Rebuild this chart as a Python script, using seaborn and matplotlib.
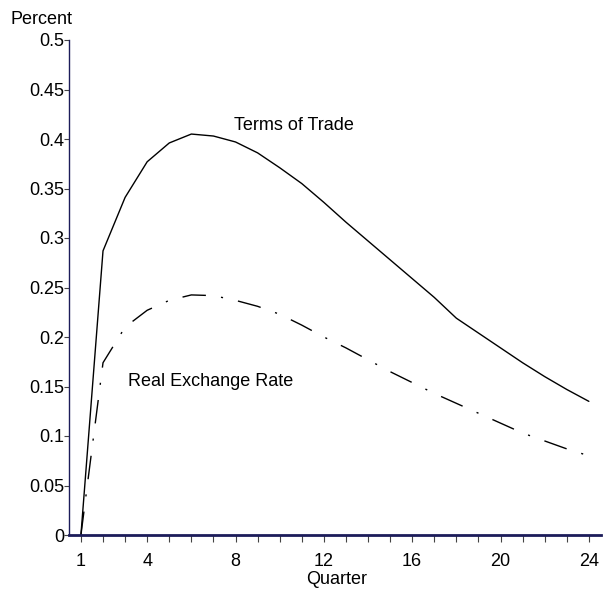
import numpy as np
import pandas as pd
import matplotlib
matplotlib.use("Agg")
import matplotlib.pyplot as plt
import seaborn as sns

quarters = list(range(1, 25))
terms_of_trade = [0.0, 0.287, 0.341, 0.377, 0.396, 0.405, 0.403, 0.397, 0.386, 0.371,
                  0.355, 0.336, 0.316, 0.297, 0.278, 0.259, 0.240, 0.219, 0.204, 0.189,
                  0.174, 0.160, 0.147, 0.135]
real_exchange_rate = [0.0, 0.174, 0.210, 0.227, 0.237, 0.2425, 0.2418, 0.237, 0.231, 0.223,
                      0.212, 0.200, 0.189, 0.177, 0.165, 0.154, 0.143, 0.133, 0.123, 0.113,
                      0.103, 0.095, 0.087, 0.080]
x_tick_labels = [1, 4, 8, 12, 16, 20, 24]
y_ticks = [0, 0.05, 0.1, 0.15, 0.2, 0.25, 0.3, 0.35, 0.4, 0.45, 0.5]
y_tick_labels = ["0", "0.05", "0.1", "0.15", "0.2", "0.25", "0.3", "0.35", "0.4", "0.45", "0.5"]

df = pd.DataFrame({"Quarter": quarters, "ToT": terms_of_trade, "RER": real_exchange_rate})

sns.set_style("white")
plt.rcParams["font.family"] = ["Liberation Sans", "DejaVu Sans"]
plt.rcParams["text.color"] = "black"
plt.rcParams["xtick.labelcolor"] = "black"
plt.rcParams["ytick.labelcolor"] = "black"

FS = 13
W, H = 605, 595
fig = plt.figure(figsize=(W / 100, H / 100), dpi=100)
ax = fig.add_axes([69 / W, 1 - 535 / H, (601 - 69) / W, (535 - 40) / H])

sns.lineplot(data=df, x="Quarter", y="ToT", ax=ax, color="black", linewidth=1.0)
sns.lineplot(data=df, x="Quarter", y="RER", ax=ax, color="black", linewidth=1.0,
             linestyle=(0, (17, 11, 1.5, 11)))

ax.set_xlim(0.46, 24.55)
ax.set_ylim(0, 0.5)

navy = "#1c1c5a"
for s in ["top", "right"]:
    ax.spines[s].set_visible(False)
ax.spines["left"].set_color(navy)
ax.spines["left"].set_linewidth(1.0)
ax.spines["bottom"].set_color(navy)
ax.spines["bottom"].set_linewidth(2.0)

ax.set_xticks(x_tick_labels)
ax.set_xticklabels([str(v) for v in x_tick_labels])
ax.set_xticks(quarters, minor=True)
ax.tick_params(axis="x", which="both", direction="out", length=4.8, width=0.8,
               color="#444444", bottom=True)
ax.tick_params(axis="x", which="major", pad=8.5, labelsize=FS, labelcolor="black")

ax.set_yticks(y_ticks)
ax.set_yticklabels(y_tick_labels)
ax.tick_params(axis="y", which="major", direction="out", length=3.6, width=0.8,
               color="#444444", left=True, pad=0, labelsize=FS, labelcolor="black")

ax.set_xlabel("")
ax.set_ylabel("")

fig.text(42 / W, 1 - 20 / H, "Percent", ha="center", va="center", fontsize=FS, color="black")
fig.text(337 / W, 1 - 579 / H, "Quarter", ha="center", va="center", fontsize=FS, color="black")

fig.text(294 / W, 1 - 125 / H, "Terms of Trade", ha="center", va="center", fontsize=FS, color="black")
fig.text(211 / W, 1 - 382 / H, "Real Exchange Rate", ha="center", va="center", fontsize=FS, color="black")

fig.savefig("out.png", dpi=100)
